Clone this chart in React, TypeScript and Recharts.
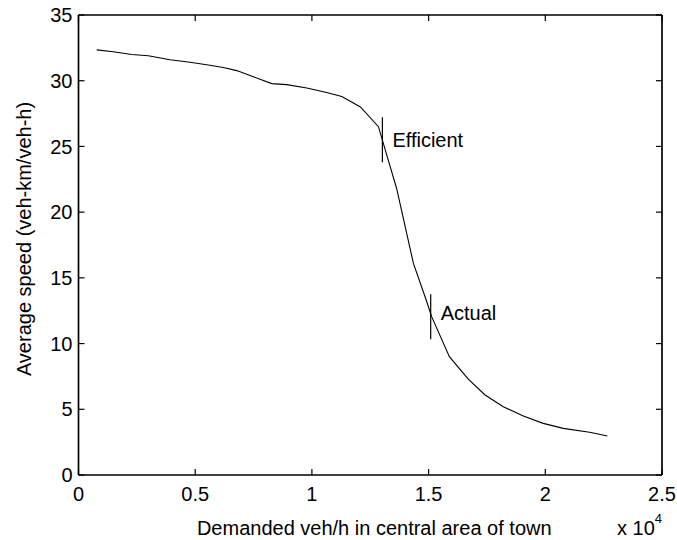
import React from 'react';
import { LineChart, Line, XAxis, YAxis, ReferenceLine } from 'recharts';

// Demand (veh/h) and average speed (veh-km/veh-h)
const demand = [780, 1490, 2280, 2990, 3920, 4780, 5630, 6200, 6780, 7490, 8280, 8920, 9780, 10630, 11280, 12080, 12850, 13630, 14350, 14900, 15130, 15890, 16700, 17420, 18200, 19060, 19910, 20770, 21900, 22660];
const speed = [32.35, 32.2, 32.0, 31.9, 31.6, 31.4, 31.18, 31.0, 30.77, 30.3, 29.78, 29.7, 29.45, 29.1, 28.8, 28.0, 26.5, 21.8, 16.1, 13.3, 12.05, 9.0, 7.3, 6.09, 5.2, 4.49, 3.93, 3.55, 3.25, 2.97];

const xTicks = [0, 5000, 10000, 15000, 20000, 25000];
const yTicks = [0, 5, 10, 15, 20, 25, 30, 35];

const markerNames = ['Efficient', 'Actual'];
const markerDemand = [13020, 15090];
const markerLow = [23.8, 10.33];
const markerHigh = [27.22, 13.75];

const xLabel = 'Demanded veh/h in central area of town';
const yLabel = 'Average speed (veh-km/veh-h)';
const xMultiplierBase = 'x 10';
const xMultiplierExp = '4';

const data = demand.map((d, i) => ({ demand: d, speed: speed[i] }));

const FONT = '"Liberation Sans", Arial, Helvetica, sans-serif';
const FS = 20;

const fmtX = (v: number) => String(v / 10000);

const XLabelContent = (props: any) => {
  const vb = props.viewBox || { x: 78.5, y: 475, width: 583.5, height: 65 };
  const cx = vb.x + vb.width / 2 + 4;
  return (
    <g>
      <text x={cx} y={vb.y + 60} textAnchor="middle" fontFamily={FONT} fontSize={FS} fill="#000">
        {xLabel}
      </text>
      <text x={vb.x + vb.width - 45} y={vb.y + 60} textAnchor="start" fontFamily={FONT} fontSize={FS} fill="#000">
        {xMultiplierBase}
        <tspan dy={-12} fontSize={13}>{xMultiplierExp}</tspan>
      </text>
    </g>
  );
};

const YLabelContent = (props: any) => {
  const vb = props.viewBox || { x: 0, y: 15, width: 78.5, height: 460 };
  const cx = 24;
  const cy = vb.y + vb.height / 2 - 6;
  return (
    <text
      x={cx}
      y={cy}
      transform={`rotate(-90 ${cx} ${cy})`}
      textAnchor="middle"
      dominantBaseline="central"
      fontFamily={FONT}
      fontSize={FS}
      fill="#000"
    >
      {yLabel}
    </text>
  );
};

const makeMarkerLabel = (name: string, shift: number) => (props: any) => {
  const vb = props.viewBox;
  if (!vb) return null;
  return (
    <text
      x={vb.x + 10}
      y={vb.y + vb.height / 2 + shift}
      textAnchor="start"
      dominantBaseline="central"
      fontFamily={FONT}
      fontSize={FS}
      fill="#000"
    >
      {name}
    </text>
  );
};

const emptyTick = () => <g />;

export default function App() {
  const tickStyle = { fontSize: FS, fontFamily: FONT, fill: '#000' };
  const axisLine = { stroke: '#000', strokeWidth: 1.7 };
  const tickLine = { stroke: '#000', strokeWidth: 1.2 };
  return (
    <div style={{ position: 'absolute', left: 0, top: 0, width: 677, height: 540, background: '#fff' }}>
      <LineChart width={677} height={540} data={data} margin={{ top: 14, right: 14, left: 0, bottom: 0 }}>
        <XAxis
          xAxisId="bottom"
          dataKey="demand"
          type="number"
          domain={[0, 25000]}
          ticks={xTicks}
          tickFormatter={fmtX}
          orientation="bottom"
          height={65}
          tickSize={-6}
          tickMargin={18}
          tick={tickStyle}
          axisLine={axisLine}
          tickLine={tickLine}
          interval={0}
          allowDataOverflow
          label={<XLabelContent />}
        />
        <XAxis
          xAxisId="top"
          dataKey="demand"
          type="number"
          domain={[0, 25000]}
          ticks={xTicks}
          orientation="top"
          height={1}
          tickSize={-6}
          tick={emptyTick}
          axisLine={axisLine}
          tickLine={tickLine}
          interval={0}
          allowDataOverflow
        />
        <YAxis
          yAxisId="left"
          type="number"
          domain={[0, 35]}
          ticks={yTicks}
          orientation="left"
          width={78.5}
          tickSize={-6}
          tickMargin={12}
          tick={tickStyle}
          axisLine={axisLine}
          tickLine={tickLine}
          interval={0}
          allowDataOverflow
          label={<YLabelContent />}
        />
        <YAxis
          yAxisId="right"
          type="number"
          domain={[0, 35]}
          ticks={yTicks}
          orientation="right"
          width={1}
          tickSize={-6}
          tick={emptyTick}
          axisLine={axisLine}
          tickLine={tickLine}
          interval={0}
          allowDataOverflow
        />
        <Line
          xAxisId="bottom"
          yAxisId="left"
          type="linear"
          dataKey="speed"
          stroke="#000"
          strokeWidth={1.1}
          dot={false}
          activeDot={false}
          isAnimationActive={false}
        />
        {markerNames.map((name, i) => (
          <ReferenceLine
            key={name}
            xAxisId="bottom"
            yAxisId="left"
            segment={[
              { x: markerDemand[i], y: markerLow[i] },
              { x: markerDemand[i], y: markerHigh[i] },
            ]}
            stroke="#000"
            strokeWidth={1.2}
            ifOverflow="visible"
            label={makeMarkerLabel(name, i === 1 ? -4 : 0)}
          />
        ))}
      </LineChart>
    </div>
  );
}
